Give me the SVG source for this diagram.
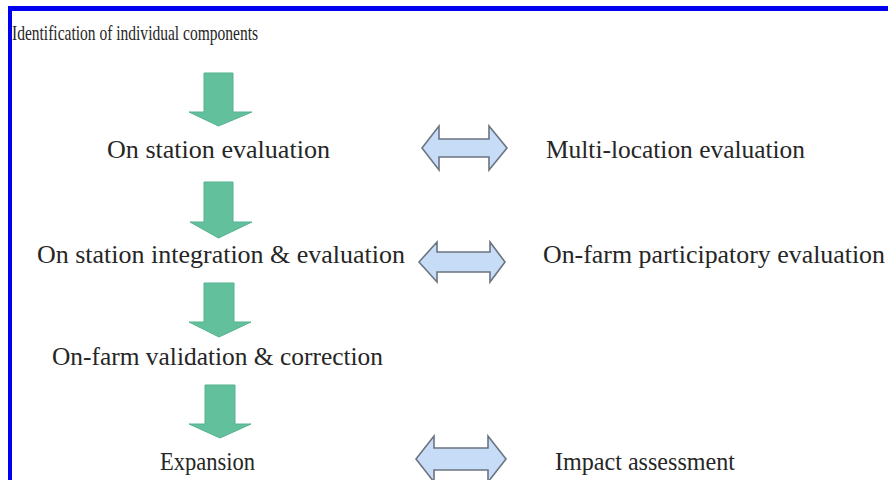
<svg xmlns="http://www.w3.org/2000/svg" width="888" height="480" viewBox="0 0 888 480">
<defs>
<style>
text{font-family:'Liberation Serif','Times New Roman','DejaVu Serif',serif;fill:#262626;}
.t{font-size:25px;}
.title{font-size:22px;}
.down{fill:#62c09c;stroke:#55b28e;stroke-width:1;}
.dbl{fill:#c6dcf7;stroke:#6b7480;stroke-width:1.6;stroke-linejoin:miter;}
</style>
</defs>
<rect x="0" y="0" width="888" height="480" fill="#ffffff"/>
<g id="frame">
<rect x="8" y="6" width="880" height="5" fill="#0000f0"/>
<rect x="8" y="6" width="4" height="474" fill="#0000f0"/>
</g>
<g id="n-identification"><text class="title" font-family="Liberation Serif, serif" x="12" y="40" textLength="246" lengthAdjust="spacingAndGlyphs">Identification of individual components</text></g>
<g id="n-onstation"><text class="t" font-family="Liberation Serif, serif" x="107" y="158" textLength="223" lengthAdjust="spacingAndGlyphs">On station evaluation</text></g>
<g id="n-multiloc"><text class="t" font-family="Liberation Serif, serif" x="546" y="158" textLength="259" lengthAdjust="spacingAndGlyphs">Multi-location evaluation</text></g>
<g id="n-integration"><text class="t" font-family="Liberation Serif, serif" x="37" y="263" textLength="368" lengthAdjust="spacingAndGlyphs">On station integration &amp; evaluation</text></g>
<g id="n-participatory"><text class="t" font-family="Liberation Serif, serif" x="543" y="263" textLength="342" lengthAdjust="spacingAndGlyphs">On-farm participatory evaluation</text></g>
<g id="n-validation"><text class="t" font-family="Liberation Serif, serif" x="52" y="365" textLength="331" lengthAdjust="spacingAndGlyphs">On-farm validation &amp; correction</text></g>
<g id="n-expansion"><text class="t" font-family="Liberation Serif, serif" x="160" y="470" textLength="95" lengthAdjust="spacingAndGlyphs">Expansion</text></g>
<g id="n-impact"><text class="t" font-family="Liberation Serif, serif" x="555" y="470" textLength="180" lengthAdjust="spacingAndGlyphs">Impact assessment</text></g>
<g id="connectors">
<polygon class="down" points="204,73 233,73 233,112 252,112 218.5,126 189,112 204,112"/>
<polygon class="down" points="204,182 233,182 233,222 252,222 218.5,238 190,222 204,222"/>
<polygon class="down" points="204,283 234,283 234,322 251,322 219,337 189,322 204,322"/>
<polygon class="down" points="205,385 235,385 235,424 251,424 220,438 189,424 205,424"/>
<polygon class="dbl" points="422,148 439,126 439,139 489,139 489,126 507,148 489,170 489,157 439,157 439,170"/>
<polygon class="dbl" points="419,262 437,242 437,252 490,252 490,242 505,262 490,282 490,272 437,272 437,282"/>
<polygon class="dbl" points="416,459 434,436 434,448 488,448 488,436 506,459 488,482 488,470 434,470 434,482"/>
</g>
</svg>
